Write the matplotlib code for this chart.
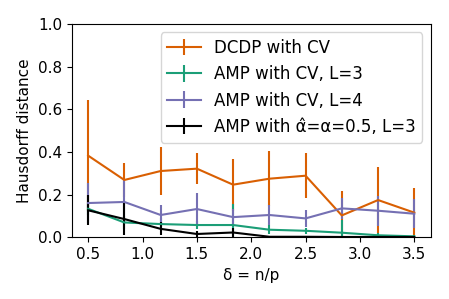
import numpy as np
import matplotlib
matplotlib.use("Agg")
import matplotlib.pyplot as plt

delta = [0.5, 0.833, 1.167, 1.5, 1.833, 2.167, 2.5, 2.833, 3.167, 3.5]

dcdp_mean = [0.383, 0.269, 0.311, 0.322, 0.247, 0.275, 0.289, 0.103, 0.175, 0.116]
dcdp_err = [0.26, 0.078, 0.114, 0.072, 0.122, 0.13, 0.106, 0.113, 0.155, 0.117]

amp3_mean = [0.134, 0.070, 0.0625, 0.058, 0.058, 0.036, 0.031, 0.022, 0.010, 0.005]
amp3_err = [0.03, 0.03, 0.03, 0.02, 0.10, 0.02, 0.014, 0.058, 0.01, 0.005]

amp4_mean = [0.161, 0.166, 0.105, 0.133, 0.095, 0.105, 0.089, 0.136, 0.125, 0.111]
amp4_err = [0.092, 0.105, 0.047, 0.076, 0.04, 0.047, 0.04, 0.05, 0.07, 0.067]

ampo_mean = [0.127, 0.086, 0.040, 0.016, 0.023, 0.003, 0.003, 0.002, 0.002, 0.002]
ampo_err = [0.071, 0.074, 0.03, 0.015, 0.02, 0.003, 0.003, 0.002, 0.002, 0.002]

labels = ["DCDP with CV", "AMP with CV, L=3", "AMP with CV, L=4",
          "AMP with \u03b1\u0302=\u03b1=0.5, L=3"]
colors = ["#d95f02", "#1b9e77", "#7570b3", "black"]

fig = plt.figure(figsize=(4.49, 2.99), dpi=100)
ax = fig.add_axes([0.16, 0.206, 0.799, 0.714])
series = [(dcdp_mean, dcdp_err), (amp3_mean, amp3_err),
          (amp4_mean, amp4_err), (ampo_mean, ampo_err)]
for (m, e), lab, c in zip(series, labels, colors):
    ax.errorbar(delta, m, yerr=e, color=c, label=lab, lw=1.5)
ax.set_ylim(0, 1.0)
ax.set_xticks([0.5, 1.0, 1.5, 2.0, 2.5, 3.0, 3.5])
ax.tick_params(labelsize=11)
ax.set_xlabel("\u03b4 = n/p", fontsize=11)
ax.set_ylabel("Hausdorff distance", fontsize=11)
ax.legend(loc="upper right", fontsize=12)
fig.savefig("out.png", dpi=100)
